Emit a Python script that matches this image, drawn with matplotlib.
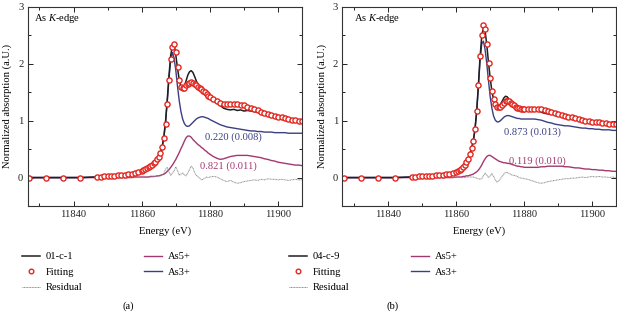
import matplotlib
matplotlib.use("Agg")
import matplotlib.pyplot as plt
from matplotlib.ticker import MultipleLocator

plt.rcParams['font.family'] = ['Liberation Serif', 'DejaVu Serif']
plt.rcParams['mathtext.fontset'] = 'custom'
plt.rcParams['mathtext.it'] = 'Liberation Serif:italic'
plt.rcParams['mathtext.rm'] = 'Liberation Serif'

# ---------------- data ----------------
energy = [11827, 11832, 11837, 11842,
          11847, 11848, 11849, 11850, 11851, 11852, 11853, 11854, 11855, 11856, 11857, 11858, 11859,
          11860, 11860.5, 11861, 11861.5, 11862, 11862.5, 11863, 11863.5, 11864, 11864.5,
          11865, 11865.5, 11866, 11866.5, 11867, 11867.5, 11868, 11868.5, 11869, 11869.5,
          11870, 11870.5, 11871, 11871.5, 11872, 11872.5, 11873, 11873.5, 11874, 11874.5,
          11875, 11875.5, 11876, 11876.5, 11877, 11877.5, 11878, 11878.5, 11879, 11879.5, 11880,
          11881, 11882, 11883, 11884, 11885, 11886, 11887, 11888, 11889, 11890,
          11891, 11892, 11893, 11894, 11895, 11896, 11897, 11898, 11899, 11900,
          11901, 11902, 11903, 11904, 11905, 11906, 11907]

# panel (a): sample 01-c-1
a_data = [0, 0, 0, 0,
          0.01, 0.01, 0.01, 0.02, 0.02, 0.03, 0.03, 0.04, 0.05, 0.05, 0.06, 0.08, 0.09,
          0.11, 0.12, 0.14, 0.15, 0.17, 0.19, 0.21, 0.24, 0.27, 0.31, 0.36, 0.43, 0.54, 0.72,
          1.00, 1.38, 1.80, 2.15, 2.32, 2.33, 2.15, 1.92, 1.72, 1.60, 1.56, 1.60, 1.70, 1.80,
          1.86, 1.88, 1.85, 1.78, 1.70, 1.63, 1.58, 1.54, 1.50, 1.46, 1.43, 1.41, 1.38,
          1.35, 1.31, 1.27, 1.22, 1.20, 1.19, 1.20, 1.18, 1.19, 1.17, 1.18, 1.17, 1.16, 1.15,
          1.13, 1.11, 1.09, 1.07, 1.06, 1.04, 1.03, 1.01, 1.00, 0.99, 0.98, 0.98, 0.97]
a_fit = [0, 0, 0, 0,
         0.01, 0.01, 0.02, 0.02, 0.03, 0.03, 0.04, 0.04, 0.05, 0.06, 0.07, 0.08, 0.10,
         0.12, 0.13, 0.15, 0.16, 0.18, 0.20, 0.22, 0.25, 0.28, 0.32, 0.37, 0.44, 0.54, 0.70,
         0.95, 1.30, 1.72, 2.08, 2.30, 2.35, 2.20, 1.95, 1.72, 1.60, 1.57, 1.58, 1.62, 1.65,
         1.67, 1.68, 1.66, 1.64, 1.62, 1.60, 1.58, 1.55, 1.53, 1.50, 1.47, 1.44, 1.42,
         1.39, 1.35, 1.32, 1.30, 1.29, 1.29, 1.29, 1.29, 1.28, 1.27, 1.25, 1.22, 1.20, 1.18,
         1.16, 1.14, 1.12, 1.10, 1.09, 1.07, 1.06, 1.04, 1.03, 1.02, 1.01, 1.00, 1.00]
a_as3 = [0, 0, 0, 0,
         0.01, 0.01, 0.01, 0.01, 0.02, 0.02, 0.02, 0.03, 0.03, 0.04, 0.05, 0.06, 0.07,
         0.09, 0.10, 0.11, 0.13, 0.15, 0.17, 0.20, 0.23, 0.27, 0.31, 0.36, 0.44, 0.55, 0.72,
         0.98, 1.35, 1.75, 2.08, 2.20, 2.10, 1.88, 1.60, 1.35, 1.16, 1.03, 0.95, 0.91, 0.90,
         0.91, 0.94, 0.97, 1.00, 1.03, 1.05, 1.06, 1.07, 1.07, 1.06, 1.05, 1.04, 1.02,
         0.99, 0.96, 0.93, 0.91, 0.89, 0.88, 0.87, 0.86, 0.85, 0.84, 0.83, 0.82, 0.82, 0.81,
         0.81, 0.80, 0.80, 0.80, 0.79, 0.79, 0.79, 0.79, 0.78, 0.78, 0.78, 0.78, 0.78]
a_as5 = [0, 0, 0, 0,
         0, 0, 0, 0, 0, 0, 0, 0, 0, 0, 0, 0.01, 0.01,
         0.01, 0.01, 0.01, 0.01, 0.01, 0.02, 0.02, 0.02, 0.02, 0.03, 0.03, 0.04, 0.05, 0.06,
         0.08, 0.11, 0.14, 0.18, 0.22, 0.27, 0.32, 0.38, 0.44, 0.51, 0.57, 0.64, 0.70, 0.73,
         0.73, 0.71, 0.67, 0.64, 0.61, 0.58, 0.56, 0.53, 0.51, 0.48, 0.46, 0.43, 0.41,
         0.37, 0.34, 0.32, 0.33, 0.35, 0.37, 0.38, 0.39, 0.39, 0.39, 0.39, 0.38, 0.37, 0.36,
         0.35, 0.33, 0.32, 0.30, 0.29, 0.27, 0.26, 0.25, 0.24, 0.23, 0.22, 0.22, 0.21]
a_res = [0, 0, 0, 0,
         0, 0, 0, 0, 0, 0, 0, 0, 0, 0, 0, 0, 0,
         0, 0, 0, 0, 0.01, 0.01, 0.01, 0.02, 0.02, 0.02, 0.03, 0.03, 0.04, 0.08,
         0.15, 0.18, 0.10, 0.04, 0.08, 0.12, 0.19, 0.12, 0.04, 0.06, 0.08, 0.05, 0.03, 0.08,
         0.14, 0.20, 0.17, 0.09, 0.04, 0.02, -0.01, -0.04, -0.03, -0.01, 0.01, 0.00, 0.01,
         0.02, 0.01, -0.02, -0.05, -0.07, -0.05, -0.08, -0.10, -0.09, -0.07, -0.06, -0.05, -0.04,
         -0.05, -0.03, -0.04, -0.02, -0.03, -0.03, -0.04, -0.03, -0.04, -0.05, -0.04, -0.03, -0.04, -0.04]

# panel (b): sample 04-c-9
b_data = [0, 0, 0, 0,
          0.01, 0.01, 0.01, 0.02, 0.02, 0.02, 0.03, 0.03, 0.04, 0.05, 0.05, 0.06, 0.08,
          0.09, 0.11, 0.12, 0.14, 0.17, 0.21, 0.26, 0.32, 0.41, 0.51, 0.64, 0.84, 1.15, 1.60,
          2.10, 2.48, 2.64, 2.58, 2.33, 2.02, 1.75, 1.52, 1.37, 1.28, 1.25, 1.26, 1.29, 1.34,
          1.40, 1.43, 1.42, 1.38, 1.33, 1.28, 1.25, 1.23, 1.21, 1.20, 1.20, 1.20, 1.20,
          1.20, 1.20, 1.20, 1.18, 1.15, 1.13, 1.12, 1.11, 1.12, 1.10, 1.09, 1.07, 1.06, 1.05,
          1.03, 1.02, 1.00, 0.99, 0.98, 0.97, 0.96, 0.96, 0.95, 0.95, 0.94, 0.94, 0.94]
b_fit = [0, 0, 0, 0,
         0.01, 0.01, 0.02, 0.02, 0.02, 0.03, 0.03, 0.04, 0.04, 0.05, 0.06, 0.07, 0.08,
         0.10, 0.11, 0.13, 0.15, 0.18, 0.22, 0.27, 0.33, 0.42, 0.52, 0.65, 0.85, 1.17, 1.62,
         2.13, 2.50, 2.69, 2.62, 2.35, 2.02, 1.75, 1.53, 1.39, 1.29, 1.25, 1.24, 1.25, 1.28,
         1.32, 1.34, 1.35, 1.34, 1.32, 1.29, 1.27, 1.25, 1.23, 1.22, 1.21, 1.21, 1.21,
         1.21, 1.21, 1.21, 1.21, 1.20, 1.18, 1.17, 1.15, 1.14, 1.12, 1.10, 1.09, 1.07, 1.06,
         1.04, 1.03, 1.01, 1.00, 0.99, 0.98, 0.97, 0.97, 0.96, 0.96, 0.95, 0.95, 0.95]
b_as3 = [0, 0, 0, 0,
         0.01, 0.01, 0.01, 0.01, 0.02, 0.02, 0.02, 0.03, 0.03, 0.04, 0.05, 0.06, 0.07,
         0.09, 0.10, 0.12, 0.14, 0.16, 0.20, 0.25, 0.31, 0.40, 0.50, 0.63, 0.83, 1.14, 1.58,
         2.05, 2.35, 2.40, 2.25, 2.00, 1.70, 1.42, 1.22, 1.08, 1.01, 0.98, 0.98, 1.00, 1.03,
         1.06, 1.08, 1.09, 1.09, 1.08, 1.07, 1.06, 1.05, 1.04, 1.04, 1.03, 1.03, 1.03,
         1.03, 1.03, 1.03, 1.02, 1.01, 0.99, 0.97, 0.96, 0.94, 0.93, 0.92, 0.91, 0.91, 0.90,
         0.89, 0.88, 0.87, 0.87, 0.86, 0.86, 0.85, 0.85, 0.84, 0.84, 0.84, 0.83, 0.83]
b_as5 = [0, 0, 0, 0,
         0, 0, 0, 0, 0, 0, 0, 0, 0, 0, 0, 0, 0,
         0.01, 0.01, 0.01, 0.01, 0.02, 0.02, 0.03, 0.03, 0.04, 0.05, 0.06, 0.08, 0.10, 0.13,
         0.17, 0.22, 0.28, 0.33, 0.37, 0.39, 0.39, 0.37, 0.35, 0.33, 0.31, 0.29, 0.28, 0.27,
         0.26, 0.26, 0.25, 0.25, 0.24, 0.23, 0.22, 0.21, 0.20, 0.20, 0.19, 0.19, 0.18,
         0.18, 0.18, 0.18, 0.18, 0.19, 0.19, 0.20, 0.20, 0.20, 0.20, 0.20, 0.19, 0.19, 0.18,
         0.17, 0.17, 0.16, 0.15, 0.15, 0.14, 0.14, 0.13, 0.13, 0.12, 0.12, 0.11, 0.11]
b_res = [0, 0, 0, 0,
         0, 0, 0, 0, 0, 0, 0, 0, 0, 0, 0, 0, 0,
         0, 0, 0, 0, 0, 0, 0.01, 0.01, 0.01, 0.01, 0.01, 0.00, -0.01, -0.02,
         -0.03, -0.02, 0.03, 0.08, 0.04, 0.00, 0.03, 0.07, 0.02, -0.04, -0.08, -0.06, -0.02, 0.02,
         0.06, 0.09, 0.09, 0.07, 0.06, 0.04, 0.04, 0.03, 0.02, 0.00, -0.01, -0.01, -0.02,
         -0.03, -0.05, -0.07, -0.09, -0.10, -0.09, -0.07, -0.06, -0.05, -0.04, -0.03, -0.02, -0.02,
         -0.01, -0.01, 0.00, 0.01, 0.00, 0.01, 0.02, 0.01, 0.02, 0.01, 0.01, 0.00, 0.01, 0.00]

sample_names = ['01-c-1', '04-c-9']
frac_as3 = ['0.220 (0.008)', '0.873 (0.013)']
frac_as5 = ['0.821 (0.011)', '0.119 (0.010)']
panel_tags = ['(a)', '(b)']

# ---------------- style ----------------
C_DATA = '#1f1f1f'
C_FIT = '#e3261f'
C_AS3 = '#3b3f82'
C_AS5 = '#a3386f'
C_RES = '#8a8a8a'
FS = 7.6

W, H = 617, 316
fig = plt.figure(figsize=(W / 100, H / 100), dpi=100)

ax_px = [(27.5, 7, 302, 206), (342.3, 7, 616, 206)]
txt_x = [33.5, 353.5]
leg_x = [22, 289]
tag_x = [128, 393]

panels = [
    (a_data, a_fit, a_as3, a_as5, a_res),
    (b_data, b_fit, b_as3, b_as5, b_res),
]
lab_pos_as3 = [(11887, 0.71), (11882.5, 0.80)]
lab_pos_as5 = [(11885.5, 0.20), (11884, 0.28)]

for i, (dat, fit, as3, as5, res) in enumerate(panels):
    x0, y0, x1, y1 = ax_px[i]
    ax = fig.add_axes([x0 / W, 1 - y1 / H, (x1 - x0) / W, (y1 - y0) / H])
    h_as5, = ax.plot(energy, as5, color=C_AS5, lw=1.0, label='As5+')
    h_as3, = ax.plot(energy, as3, color=C_AS3, lw=1.0, label='As3+')
    h_res, = ax.plot(energy, res, color=C_RES, lw=0.7, ls=(0, (1, 0.6)), label='Residual')
    h_dat, = ax.plot(energy, dat, color=C_DATA, lw=1.1, label=sample_names[i])
    h_fit, = ax.plot(energy, fit, ls='none', marker='o', ms=3.7, mew=1.0,
                     mec=C_FIT, mfc='white', label='Fitting')

    ax.set_xlim(11826.5, 11907)
    ax.set_ylim(-0.5, 3)
    ax.xaxis.set_major_locator(MultipleLocator(20))
    ax.xaxis.set_minor_locator(MultipleLocator(10))
    ax.yaxis.set_major_locator(MultipleLocator(1))
    ax.yaxis.set_minor_locator(MultipleLocator(0.5))
    ax.tick_params(which='both', direction='in', top=True, right=True,
                   labelsize=FS, colors='#222222', width=0.7)
    ax.tick_params(which='major', length=3.5, pad=3)
    ax.tick_params(which='minor', length=2)
    for sp in ax.spines.values():
        sp.set_linewidth(0.8)
        sp.set_color('#333333')
    ax.set_ylabel('Normalized absorption (a.U.)', fontsize=FS, labelpad=4)
    ax.set_xlabel('Energy (eV)', fontsize=FS, labelpad=5)

    ax.text((txt_x[i] - x0) / (x1 - x0), (y1 - 18.5) / (y1 - y0), r'As $K$-edge',
            transform=ax.transAxes, fontsize=FS, ha='left', va='center')
    ax.text(*lab_pos_as3[i], frac_as3[i], color=C_AS3, fontsize=FS, ha='center', va='center')
    ax.text(*lab_pos_as5[i], frac_as5[i], color=C_AS5, fontsize=FS, ha='center', va='center')

    fig.text(tag_x[i] / W, 1 - 306 / H, panel_tags[i], fontsize=FS, ha='center', va='center')

    ax.legend([h_dat, h_fit, h_res, h_as5, h_as3],
              [sample_names[i], 'Fitting', 'Residual', 'As5+', 'As3+'],
              loc='upper left', bbox_to_anchor=(leg_x[i] / W, 1 - 252 / H),
              bbox_transform=fig.transFigure, ncol=2, frameon=False,
              fontsize=FS, handlelength=1.7, handletextpad=0.55,
              columnspacing=5.8, labelspacing=0.58, borderpad=0, borderaxespad=0,
              numpoints=1, markerscale=0.9)

fig.savefig('out.png', dpi=100)
